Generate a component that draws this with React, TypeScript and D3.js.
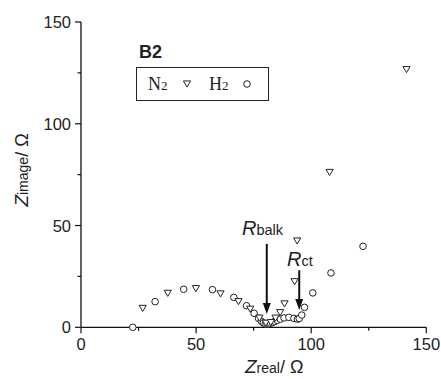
import React from "react";
import * as d3 from "d3";

// N2 series (triangles), [Zreal, Zimage] in ohm
const n2Real:  number[] = [26.8, 37.7, 49.9, 60.6, 68.4, 73.5, 77.5, 80.3, 82.5, 84.5, 86.5, 88.4, 92.8, 93.9, 108.0, 141.4];
const n2Image: number[] = [ 9.3, 16.7, 19.0, 16.4, 12.6,  8.9,  4.5,  2.0,  2.3,  4.5,  7.2, 11.5, 22.4, 42.4,  76.1, 126.6];

// H2 series (circles)
const h2Real:  number[] = [22.5, 32.2, 44.6, 57.1, 66.4, 71.9, 75.2, 77.1, 78.3, 79.2, 80.0, 80.8, 81.5, 82.3, 83.2, 84.2, 85.3, 86.6, 88.2, 90.3, 92.5, 94.0, 94.8, 95.9, 97.1, 100.7, 108.6, 122.5];
const h2Image: number[] = [ 0.0, 12.6, 18.7, 18.5, 14.7, 10.6,  6.9,  4.4,  3.0,  2.2,  1.6,  1.5,  1.7,  2.0,  2.4,  2.9,  3.4,  4.0,  4.6,  4.9,  4.4,  4.0,  4.3,  6.0,  9.8, 16.9, 26.7, 39.8];

const majorTicks: number[] = [0, 50, 100, 150];
const minorTicks: number[] = [25, 75, 125];

// annotation arrows: x, from y, to y
const rbalkArrow = { x: 80.7, y0: 41, y1: 6.5 };
const rctArrow   = { x: 94.8, y0: 28, y1: 8.5 };

const W = 441, H = 379;
const sans = "'Liberation Sans', Arial, sans-serif";
const serif = "'Liberation Serif', 'Times New Roman', serif";

function Triangle({ cx, cy, s = 3.6 }: { cx: number; cy: number; s?: number }) {
    const h = s * 1.7;
    const path = `M${cx - s},${cy - h / 2}L${cx + s},${cy - h / 2}L${cx},${cy + h / 2}Z`;
    return <path d={path} fill="white" stroke="#222" strokeWidth={1} />;
}

function Arrow({ x, y0, y1 }: { x: number; y0: number; y1: number }) {
    return <g>
        <line x1={x} x2={x} y1={y0} y2={y1 - 9} stroke="#111" strokeWidth={2} />
        <path d={`M${x - 4},${y1 - 11}L${x + 4},${y1 - 11}L${x},${y1}Z`} fill="#111" />
    </g>;
}

export default function App() {
    const x = d3.scaleLinear().domain([0, 150]).range([81, 426.3]);
    const y = d3.scaleLinear().domain([0, 150]).range([327.3, 22]);

    const h2 = h2Real.map((r, i) => [r, h2Image[i]]);
    const n2 = n2Real.map((r, i) => [r, n2Image[i]]);

    return <div style={{ position: "absolute", left: 0, top: 0 }}>
        <svg width={W} height={H} style={{ display: "block", background: "white" }}>
            {/* axes */}
            <line x1={x(0)} x2={x(150)} y1={y(0)} y2={y(0)} stroke="#111" strokeWidth={1.3} />
            <line x1={x(0)} x2={x(0)} y1={y(0)} y2={y(150)} stroke="#111" strokeWidth={1.3} />
            {majorTicks.map(t => <g key={"mx" + t}>
                <line x1={x(t)} x2={x(t)} y1={y(0)} y2={y(0) + 6} stroke="#111" strokeWidth={1.2} />
                <text x={x(t)} y={350} textAnchor="middle" fontFamily={sans} fontSize={16.5} fill="#222">{t}</text>
                <line x1={x(0) - 6} x2={x(0)} y1={y(t)} y2={y(t)} stroke="#111" strokeWidth={1.2} />
                <text x={71} y={y(t) + 6} textAnchor="end" fontFamily={sans} fontSize={16.5} fill="#222">{t}</text>
            </g>)}
            {minorTicks.map(t => <g key={"mn" + t}>
                <line x1={x(t)} x2={x(t)} y1={y(0)} y2={y(0) + 3.5} stroke="#111" strokeWidth={1.2} />
                <line x1={x(0) - 3.5} x2={x(0)} y1={y(t)} y2={y(t)} stroke="#111" strokeWidth={1.2} />
            </g>)}

            {/* axis titles */}
            <text x={245} y={373} fontFamily={sans} fill="#222">
                <tspan fontStyle="italic" fontSize={19}>Z</tspan>
                <tspan fontSize={14}>real</tspan>
                <tspan fontSize={18}>/ Ω</tspan>
            </text>
            <text transform="translate(28,170) rotate(-90)" textAnchor="middle" fontFamily={sans} fill="#222">
                <tspan fontStyle="italic" fontSize={19}>Z</tspan>
                <tspan fontSize={14}>image</tspan>
                <tspan fontSize={18}>/ Ω</tspan>
            </text>

            {/* data */}
            {h2.map((d, i) => <circle key={"h" + i} cx={x(d[0])} cy={y(d[1])} r={3.3} fill="white" stroke="#222" strokeWidth={1} />)}
            {n2.map((d, i) => <Triangle key={"n" + i} cx={x(d[0])} cy={y(d[1])} />)}

            {/* panel label and legend */}
            <text x={139} y={58} fontFamily={sans} fontWeight="bold" fontSize={18} fill="#222">B2</text>
            <rect x={136.5} y={67.5} width={132} height={33} fill="white" stroke="#222" strokeWidth={1} />
            <text x={148} y={90} fontFamily={serif} fill="#222">
                <tspan fontSize={18}>N</tspan><tspan fontSize={13}>2</tspan>
            </text>
            <Triangle cx={187} cy={84} />
            <text x={209} y={90} fontFamily={serif} fill="#222">
                <tspan fontSize={18}>H</tspan><tspan fontSize={13}>2</tspan>
            </text>
            <circle cx={247} cy={84} r={3.3} fill="white" stroke="#222" strokeWidth={1} />

            {/* annotations */}
            <text x={242} y={235} fontFamily={sans} fill="#222">
                <tspan fontStyle="italic" fontSize={20}>R</tspan>
                <tspan fontSize={14.5}>balk</tspan>
            </text>
            <Arrow x={x(rbalkArrow.x)} y0={y(rbalkArrow.y0)} y1={y(rbalkArrow.y1)} />
            <text x={287} y={266} fontFamily={sans} fill="#222">
                <tspan fontStyle="italic" fontSize={20}>R</tspan>
                <tspan fontSize={14.5}>ct</tspan>
            </text>
            <Arrow x={x(rctArrow.x)} y0={y(rctArrow.y0)} y1={y(rctArrow.y1)} />
        </svg>
    </div>;
}
